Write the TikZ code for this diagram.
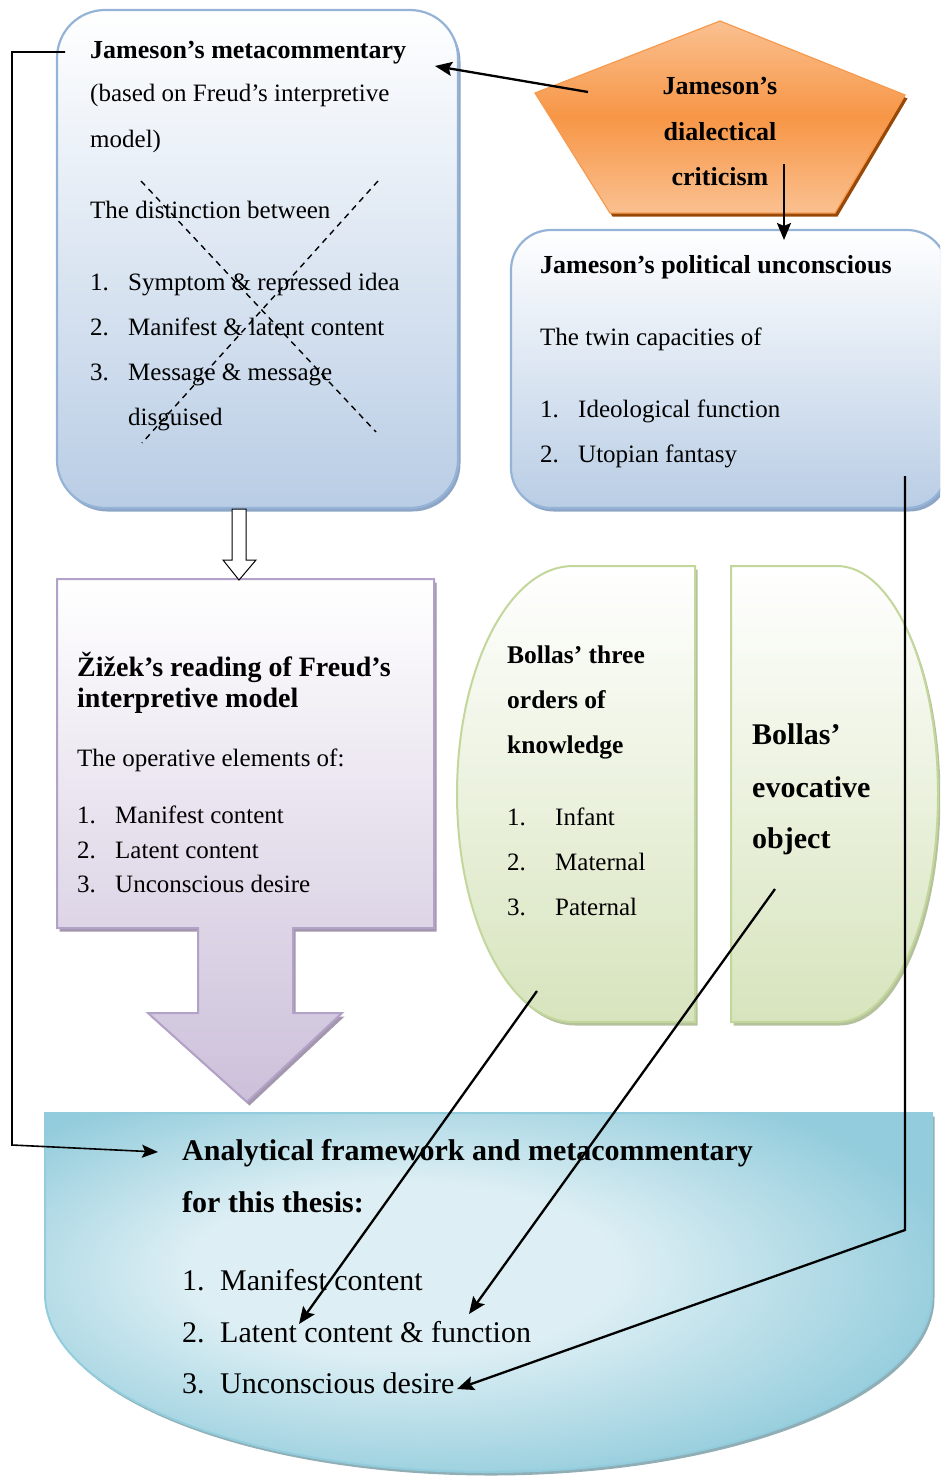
\documentclass[tikz,border=0pt]{standalone}
\usepackage{fontspec}
\setmainfont{Liberation Serif}
\usetikzlibrary{arrows.meta,shadows}
\definecolor{blueB}{HTML}{95B3D7}
\definecolor{blueF}{HTML}{B9CDE5}
\definecolor{blueS}{HTML}{8EA6C6}
\definecolor{orL}{HTML}{FAC090}
\definecolor{orM}{HTML}{F79646}
\definecolor{orB}{HTML}{F79A4E}
\definecolor{orS}{HTML}{984807}
\definecolor{puB}{HTML}{B3A2C7}
\definecolor{puF}{HTML}{CCC0DA}
\definecolor{puS}{HTML}{A397AE}
\definecolor{grB}{HTML}{C3D69B}
\definecolor{grF}{HTML}{D7E4BD}
\definecolor{grS}{HTML}{B4C19C}
\definecolor{aqL}{HTML}{DDEFF4}
\definecolor{aqD}{HTML}{93CCDC}
\definecolor{aqB}{HTML}{93CDDD}
\definecolor{aqS}{HTML}{8FAEB5}
\pgfdeclareradialshading{aquash}{\pgfpoint{-6bp}{4bp}}{color(0bp)=(aqL); color(12bp)=(aqL); color(30bp)=(aqD); color(60bp)=(aqD)}
\newcommand{\fsz}[1]{\fontsize{#1}{#1}\selectfont}
\tikzset{
  shadowed/.style={drop shadow={shadow xshift=2.5pt,shadow yshift=-3.5pt,fill=#1,opacity=1}},
  txt/.style={anchor=base west,inner sep=0pt,font=\fsz{25}},
  btxt/.style={anchor=base west,inner sep=0pt,font=\fsz{26}\bfseries},
  ctxt/.style={anchor=base,inner sep=0pt,font=\fsz{26}\bfseries},
  ptitle/.style={anchor=base west,inner sep=0pt,font=\fsz{28}\bfseries},
  gtitle/.style={anchor=base west,inner sep=0pt,font=\fsz{25.5}\bfseries},
  etitle/.style={anchor=base west,inner sep=0pt,font=\fsz{30}\bfseries},
  atitle/.style={anchor=base west,inner sep=0pt,font=\fsz{30}\bfseries},
  atxt/.style={anchor=base west,inner sep=0pt,font=\fsz{30}},
  conn/.style={line width=2.3pt,-{Stealth[length=17pt,width=14pt,inset=3pt]}},
  thinconn/.style={line width=1.6pt,-{Stealth[length=16pt,width=13pt,inset=3pt]}}
}
\begin{document}
\begin{tikzpicture}[x=1pt,y=-1pt]
\useasboundingbox (0,0) rectangle (940,1477);
\begin{scope}
\clip (0,0) rectangle (940,1477);
% top-left box
\draw[blueB,line width=2.2pt,top color=white,bottom color=blueF,rounded corners=48pt,shadowed=blueS] (57,10) rectangle (458,508);
% right box
\draw[blueB,line width=2.2pt,top color=white,bottom color=blueF,rounded corners=40pt,shadowed=blueS] (511,230) rectangle (947,508);
% pentagon
\draw[orB,line width=1.2pt,top color=orL,bottom color=orL,middle color=orM,shadowed=orS] (720,21) -- (905,95) -- (835,213) -- (610,213) -- (535,93) -- cycle;
% purple box with block arrow
\draw[puB,line width=2pt,top color=white,bottom color=puF,shadowed=puS] (57,579) -- (434,579) -- (434,928) -- (293,928) -- (293,1013) -- (342,1013) -- (247,1102) -- (148,1013) -- (198,1013) -- (198,928) -- (57,928) -- cycle;
% green shapes
\draw[grB,line width=2pt,top color=white,bottom color=grF,shadowed=grS] (695,566) -- (573,566) arc[start angle=270,end angle=90,x radius=116,y radius=228] -- (695,1022) -- cycle;
\draw[grB,line width=2pt,top color=white,bottom color=grF,shadowed=grS] (731,566) -- (837,566) arc[start angle=-90,end angle=90,x radius=101,y radius=228] -- (731,1022) -- cycle;
% bottom shape
\draw[aqB,line width=2pt,shading=aquash,shadowed=aqS] (45,1113) -- (932,1113) -- (932,1294) arc[start angle=0,end angle=180,x radius=443.5,y radius=178] -- cycle;
\end{scope}
% open arrow
\draw[black,line width=1pt,fill=white] (232,509) -- (246,509) -- (246,560) -- (256,560) -- (239,580) -- (223,560) -- (232,560) -- cycle;
% dashed cross
\draw[black,line width=1.4pt,dash pattern=on 6pt off 5pt] (141,181) -- (376,432);
\draw[black,line width=1.4pt,dash pattern=on 6pt off 5pt] (378,181) -- (142,443);
% texts top-left
\node[btxt] (jm1) at (90,59) {Jameson’s metacommentary};
\node[txt] (jm2) at (90,102) {(based on Freud’s interpretive};
\node[txt] (jm3) at (90,147) {model)};
\node[txt] (jm4) at (90,218) {The distinction between};
\node[txt] (jn1) at (90,290) {1.};
\node[txt] (ji1) at (128,290) {Symptom \& repressed idea};
\node[txt] (jn2) at (90,335) {2.};
\node[txt] (ji2) at (128,335) {Manifest \& latent content};
\node[txt] (jn3) at (90,380) {3.};
\node[txt] (ji3) at (128,380) {Message \& message};
\node[txt] (ji3b) at (128,425) {disguised};
% pentagon text
\node[ctxt] (dc1) at (720,95) {Jameson’s};
\node[ctxt] (dc2) at (720,140) {dialectical};
\node[ctxt] (dc3) at (720,185) {criticism};
% right box text
\node[btxt] (pu1) at (540,273) {Jameson’s political unconscious};
\node[txt] (pu2) at (540,345) {The twin capacities of};
\node[txt] (pn1) at (540,417) {1.};
\node[txt] (pi1) at (578,417) {Ideological function};
\node[txt] (pn2) at (540,462) {2.};
\node[txt] (pi2) at (578,462) {Utopian fantasy};
% purple text
\node[ptitle] (zz1) at (77,676) {Žižek’s reading of Freud’s};
\node[ptitle] (zz2) at (77,707) {interpretive model};
\node[txt] (zz3) at (77,766) {The operative elements of:};
\node[txt] (zn1) at (77,823) {1.};
\node[txt] (zi1) at (115,823) {Manifest content};
\node[txt] (zn2) at (77,858) {2.};
\node[txt] (zi2) at (115,858) {Latent content};
\node[txt] (zn3) at (77,892) {3.};
\node[txt] (zi3) at (115,892) {Unconscious desire};
% green left text
\node[gtitle] (bo1) at (507,663) {Bollas’ three};
\node[gtitle] (bo2) at (507,708) {orders of};
\node[gtitle] (bo3) at (507,753) {knowledge};
\node[txt] (bn1) at (507,825) {1.};
\node[txt] (bi1) at (555,825) {Infant};
\node[txt] (bn2) at (507,870) {2.};
\node[txt] (bi2) at (555,870) {Maternal};
\node[txt] (bn3) at (507,915) {3.};
\node[txt] (bi3) at (555,915) {Paternal};
% green right text
\node[etitle] (ev1) at (752,744) {Bollas’};
\node[etitle] (ev2) at (752,797) {evocative};
\node[etitle] (ev3) at (752,848) {object};
% bottom text
\node[atitle] (an1) at (182,1160) {Analytical framework and metacommentary};
\node[atitle] (an2) at (182,1212) {for this thesis:};
\node[atxt] (an3) at (182,1290) {1.};
\node[atxt] (ai1) at (220,1290) {Manifest content};
\node[atxt] (an4) at (182,1342) {2.};
\node[atxt] (ai2) at (220,1342) {Latent content \& function};
\node[atxt] (an5) at (182,1393) {3.};
\node[atxt] (ai3) at (220,1393) {Unconscious desire};
% connector coordinates
\coordinate (cL0) at (65,52);
\coordinate (cL1) at (12,52);
\coordinate (cL2) at (12,1145);
\coordinate (cLt) at (158,1152);
\coordinate (cPa) at (588,92);
\coordinate (cPt) at (435,66);
\coordinate (cDa) at (784,164);
\coordinate (cDt) at (784,240);
\coordinate (cR0) at (905,476);
\coordinate (cR1) at (905,1230);
\coordinate (cRt) at (457,1389);
\coordinate (cB1a) at (537,991);
\coordinate (cB1t) at (299,1324);
\coordinate (cB2a) at (775,889);
\coordinate (cB2t) at (469,1314);
% connectors
\draw[thinconn] (cL0) -- (cL1) -- (cL2) -- (cLt);
\draw[conn] (cPa) -- (cPt);
\draw[conn] (cDa) -- (cDt);
\draw[conn] (cR0) -- (cR1) -- (cRt);
\draw[conn] (cB1a) -- (cB1t);
\draw[conn] (cB2a) -- (cB2t);
\end{tikzpicture}
\end{document}
